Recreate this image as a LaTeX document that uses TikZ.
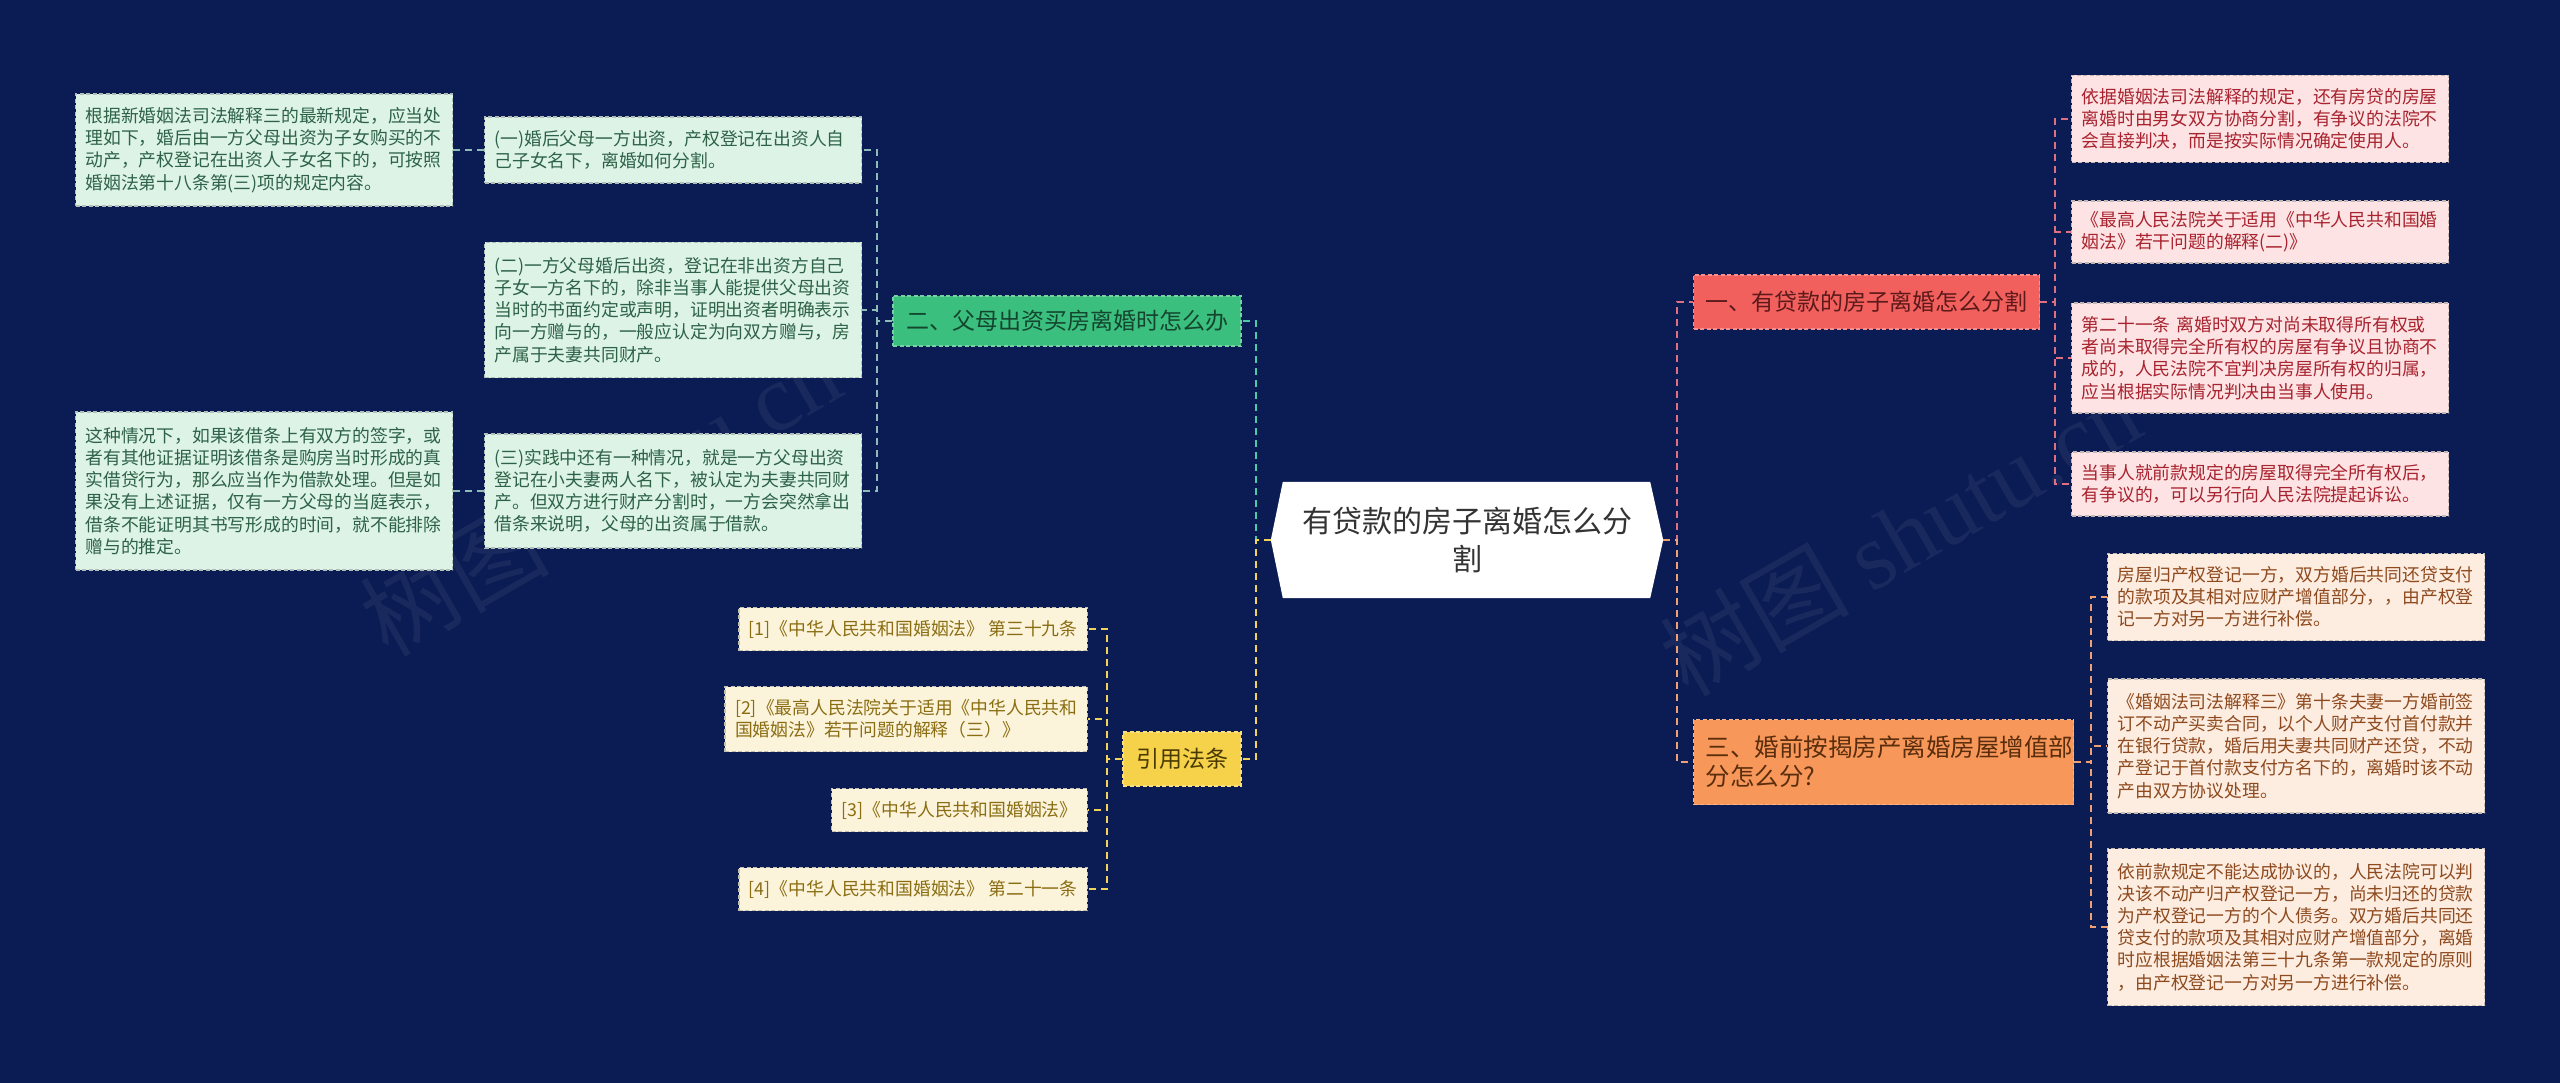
\documentclass[tikz,border=0pt]{standalone}
\usepackage{fontspec}
\setmainfont{Noto Sans CJK SC}
\newfontfamily\wmserif{Liberation Serif}
\definecolor{bg}{HTML}{0B1B53}
\definecolor{gmain}{HTML}{3BBF7E}\definecolor{gmaintxt}{HTML}{14452F}
\definecolor{gleaf}{HTML}{DCF3E6}\definecolor{gleaftxt}{HTML}{2E6248}
\definecolor{rmain}{HTML}{F2605E}\definecolor{rmaintxt}{HTML}{5C1A1A}
\definecolor{rleaf}{HTML}{FDE3E3}\definecolor{rleaftxt}{HTML}{A8232F}
\definecolor{omain}{HTML}{F7975A}\definecolor{omaintxt}{HTML}{5A2D0C}
\definecolor{oleaf}{HTML}{FDECE0}\definecolor{oleaftxt}{HTML}{8E4A1E}
\definecolor{ymain}{HTML}{F6D24A}\definecolor{ymaintxt}{HTML}{4A3A00}
\definecolor{yleaf}{HTML}{FCF4DA}\definecolor{yleaftxt}{HTML}{8A6D12}
\definecolor{cgreen}{HTML}{4EC9A5}\definecolor{cgray}{HTML}{8FBCB8}
\definecolor{cred}{HTML}{E0707F}\definecolor{corange}{HTML}{F0A070}
\definecolor{cyellow}{HTML}{F2D35A}
\begin{document}
\begin{tikzpicture}[x=1pt,y=-1pt,
  box/.style={dashed, dash pattern=on 4pt off 2.5pt, line width=1.2pt, inner xsep=10pt, inner ysep=6pt, align=left},
  leaffont/.style={font=\fontsize{17.8}{22.2}\selectfont},
  gleafbox/.style={box, leaffont, fill=gleaf, draw=gleaf!55!gray, text=gleaftxt, text width=357pt},
  rleafbox/.style={box, leaffont, fill=rleaf, draw=rleaf!55!gray, text=rleaftxt, text width=357pt},
  oleafbox/.style={box, leaffont, fill=oleaf, draw=oleaf!55!gray, text=oleaftxt, text width=357pt},
  yleafbox/.style={box, leaffont, fill=yleaf, draw=yleaf!55!gray, text=yleaftxt},
  mainbox/.style={box, font=\fontsize{24.5}{29}\selectfont, inner xsep=12pt},
  conn/.style={line width=2pt, dash pattern=on 7pt off 5pt},
]
\useasboundingbox (0,0) rectangle (2560,1083);
\fill[bg] (0,0) rectangle (2560,1083);

% watermarks
\node[rotate=30, text=white, opacity=0.06, font=\fontsize{95}{95}\selectfont] (wm1) at (600,495) {树图 {\wmserif shutu.cn}};
\node[rotate=30, text=white, opacity=0.06, font=\fontsize{95}{95}\selectfont] (wm2) at (1900,535) {树图 {\wmserif shutu.cn}};

% root
\node[minimum width=392pt, minimum height=116pt, align=center, text=black!80, font=\fontsize{30}{38}\selectfont] (root) at (1467,540) {};
\fill[white] (root.west) -- ([xshift=12pt]root.north west) -- ([xshift=-13pt]root.north east) -- (root.east) -- ([xshift=-13pt]root.south east) -- ([xshift=12pt]root.south west) -- cycle;
\node[minimum width=392pt, minimum height=116pt, align=center, text=black!80, font=\fontsize{30}{38}\selectfont] (roottext) at (1467,540) {有贷款的房子离婚怎么分\\割};

% left main branches
\node[mainbox, fill=gmain, draw=gmain!70!white, text=gmaintxt, font=\fontsize{23}{28}\selectfont, minimum height=50pt, minimum width=348pt, align=center] (g) at (1067,321) {二、父母出资买房离婚时怎么办};
\node[mainbox, fill=ymain, draw=ymain!70!white, text=ymaintxt, font=\fontsize{23}{28}\selectfont, minimum height=54pt, minimum width=118pt, align=center] (y) at (1182,759) {引用法条};

% green subtree
\node[gleafbox, minimum height=66pt] (g1) at (673,150) {(一)婚后父母一方出资，产权登记在出资人自\\己子女名下，离婚如何分割。};
\node[gleafbox, minimum height=135pt] (g2) at (673,310) {(二)一方父母婚后出资，登记在非出资方自己\\子女一方名下的，除非当事人能提供父母出资\\当时的书面约定或声明，证明出资者明确表示\\向一方赠与的，一般应认定为向双方赠与，房\\产属于夫妻共同财产。};
\node[gleafbox, minimum height=114pt] (g3) at (673,491) {(三)实践中还有一种情况，就是一方父母出资\\登记在小夫妻两人名下，被认定为夫妻共同财\\产。但双方进行财产分割时，一方会突然拿出\\借条来说明，父母的出资属于借款。};
\node[gleafbox, minimum height=112pt] (g1a) at (264,150) {根据新婚姻法司法解释三的最新规定，应当处\\理如下，婚后由一方父母出资为子女购买的不\\动产，产权登记在出资人子女名下的，可按照\\婚姻法第十八条第(三)项的规定内容。};
\node[gleafbox, minimum height=158pt] (g3a) at (264,491) {这种情况下，如果该借条上有双方的签字，或\\者有其他证据证明该借条是购房当时形成的真\\实借贷行为，那么应当作为借款处理。但是如\\果没有上述证据，仅有一方父母的当庭表示，\\借条不能证明其书写形成的时间，就不能排除\\赠与的推定。};

% yellow subtree
\node[yleafbox, anchor=east, minimum height=43pt] (y1) at (1088,629) {[1]《中华人民共和国婚姻法》 第三十九条};
\node[yleafbox, anchor=east, minimum height=65pt] (y2) at (1088,719) {[2]《最高人民法院关于适用《中华人民共和\\国婚姻法》若干问题的解释（三）》};
\node[yleafbox, anchor=east, minimum height=43pt] (y3) at (1088,810) {[3]《中华人民共和国婚姻法》};
\node[yleafbox, anchor=east, minimum height=43pt] (y4) at (1088,889) {[4]《中华人民共和国婚姻法》 第二十一条};

% right main branches
\node[mainbox, anchor=west, fill=rmain, draw=rmain!70!white, text=rmaintxt, font=\fontsize{23}{28}\selectfont, minimum height=54pt, minimum width=345pt, align=center] (r) at (1693,302) {一、有贷款的房子离婚怎么分割};
\node[mainbox, anchor=west, fill=omain, draw=omain!70!white, text=omaintxt, minimum height=85pt, text width=356pt] (o) at (1693,762) {三、婚前按揭房产离婚房屋增值部\\分怎么分?};

% red subtree
\node[rleafbox, anchor=west, minimum height=87pt] (r1) at (2071,119) {依据婚姻法司法解释的规定，还有房贷的房屋\\离婚时由男女双方协商分割，有争议的法院不\\会直接判决，而是按实际情况确定使用人。};
\node[rleafbox, anchor=west, minimum height=62pt] (r2) at (2071,232) {《最高人民法院关于适用《中华人民共和国婚\\姻法》若干问题的解释(二)》};
\node[rleafbox, anchor=west, minimum height=110pt] (r3) at (2071,358) {第二十一条 离婚时双方对尚未取得所有权或\\者尚未取得完全所有权的房屋有争议且协商不\\成的，人民法院不宜判决房屋所有权的归属，\\应当根据实际情况判决由当事人使用。};
\node[rleafbox, anchor=west, minimum height=64pt] (r4) at (2071,484) {当事人就前款规定的房屋取得完全所有权后，\\有争议的，可以另行向人民法院提起诉讼。};

% orange subtree
\node[oleafbox, anchor=west, minimum height=87pt] (o1) at (2107,597) {房屋归产权登记一方，双方婚后共同还贷支付\\的款项及其相对应财产增值部分，，由产权登\\记一方对另一方进行补偿。};
\node[oleafbox, anchor=west, minimum height=134pt] (o2) at (2107,746) {《婚姻法司法解释三》第十条夫妻一方婚前签\\订不动产买卖合同，以个人财产支付首付款并\\在银行贷款，婚后用夫妻共同财产还贷，不动\\产登记于首付款支付方名下的，离婚时该不动\\产由双方协议处理。};
\node[oleafbox, anchor=west, minimum height=157pt] (o3) at (2107,927) {依前款规定不能达成协议的，人民法院可以判\\决该不动产归产权登记一方，尚未归还的贷款\\为产权登记一方的个人债务。双方婚后共同还\\贷支付的款项及其相对应财产增值部分，离婚\\时应根据婚姻法第三十九条第一款规定的原则\\，由产权登记一方对另一方进行补偿。};

% connectors: root
\draw[conn, cgreen] (root.west) -- ++(-15,0) |- (g.east);
\draw[conn, cyellow] (root.west) -- ++(-15,0) |- (y.east);
\draw[conn, cred] (root.east) -- ++(14,0) |- (r.west);
\draw[conn, corange] (root.east) -- ++(14,0) |- (o.west);
% green
\draw[conn, cgray] (g.west) -- ++(-15,0) |- (g1.east);
\draw[conn, cgray] (g.west) -- ++(-15,0) |- (g2.east);
\draw[conn, cgray] (g.west) -- ++(-15,0) |- (g3.east);
\draw[conn, cgray] (g1.west) -- (g1a.east);
\draw[conn, cgray] (g3.west) -- (g3a.east);
% yellow
\foreach \n in {y1,y2,y3,y4} \draw[conn, cyellow] (y.west) -- ++(-15,0) |- (\n.east);
% red
\foreach \n in {r1,r2,r3,r4} \draw[conn, cred] (r.east) -- ++(15,0) |- (\n.west);
% orange
\foreach \n in {o1,o2,o3} \draw[conn, corange] (o.east) -- ++(17,0) |- (\n.west);
\end{tikzpicture}
\end{document}
